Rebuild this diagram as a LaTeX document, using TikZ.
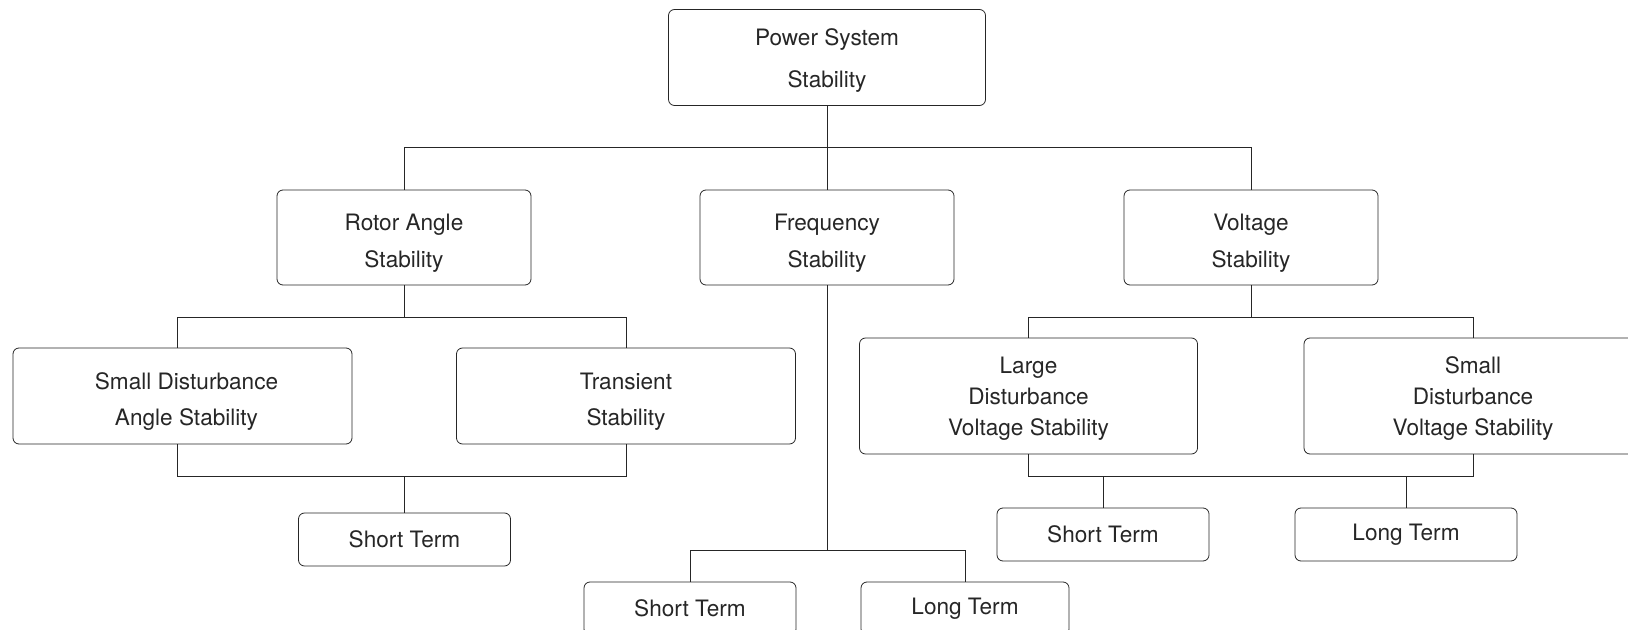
\documentclass[tikz,border=0pt]{standalone}
\usepackage{fontspec}
\setmainfont{TeX Gyre Heros}
\usepackage{xcolor}
\usepackage{tikz}
\definecolor{ink}{HTML}{262626}
\newcommand{\topgap}[1]{\rule{0pt}{#1}}
\tikzstyle{topic} = [rectangle, rounded corners=3pt, minimum width=158.5pt, minimum height=48pt, align=center, draw=ink, text=ink, font=\fontsize{11.3}{21}\selectfont]
\tikzstyle{category} = [rectangle, rounded corners=3pt, minimum width=127pt, minimum height=47.5pt, align=center, draw=ink, text=ink, font=\fontsize{11.3}{18.5}\selectfont]
\tikzstyle{subcategory} = [rectangle, rounded corners=3pt, minimum width=169.5pt, minimum height=48pt, align=center, draw=ink, text=ink, font=\fontsize{11.3}{18}\selectfont]
\tikzstyle{voltsub} = [rectangle, rounded corners=3pt, minimum width=169pt, minimum height=58pt, align=center, draw=ink, text=ink, font=\fontsize{11.3}{15.5}\selectfont]
\tikzstyle{term} = [rectangle, rounded corners=3pt, minimum width=106pt, minimum height=26.5pt, align=center, draw=ink, text=ink, font=\fontsize{11.3}{13}\selectfont]
\tikzstyle{link} = [draw=ink, line width=0.5pt]

\begin{document}
\begin{tikzpicture}[x=1pt, y=-1pt]
			\clip (0,0) rectangle (814,315);
			\node (pss) [topic] at (413.5,28.75) {\topgap{11pt}Power System\\Stability};

			\node (rotor) [category] at (202,118.75) {\topgap{14pt}Rotor Angle\\Stability};
			\node (freq) [category] at (413.5,118.75) {\topgap{14pt}Frequency\\Stability};
			\node (volt) [category] at (625.5,118.75) {\topgap{14pt}Voltage\\Stability};

			\node (sdas) [subcategory] at (91.25,198) {\topgap{14pt}\hspace{4pt}Small Disturbance\\\hspace{4pt}Angle Stability};
			\node (trans) [subcategory] at (313,198) {\topgap{14pt}Transient\\Stability};
			\node (stl) [term] at (202.25,269.75) {Short Term};

			\node (stf) [term] at (345,304.25) {Short Term};
			\node (ltf) [term, minimum width=104pt] at (482.5,304.25) {Long Term};

			\node (lgd) [voltsub] at (514.25,198) {\topgap{11pt}Large\\Disturbance\\Voltage Stability};
			\node (sdv) [voltsub] at (736.5,198) {\topgap{11pt}Small\\Disturbance\\Voltage Stability};
			\node (stv) [term] at (551.5,267.25) {Short Term};
			\node (ltv) [term, minimum width=111pt] at (703,267.25) {Long Term};

			\draw [link] (pss) -- (freq);
			\draw [link] (pss.south) -- ++(0,21) -| (rotor.north);
			\draw [link] (pss.south) -- ++(0,21) -| (volt.north);

			\draw [link] (rotor.south) -- ++(0,16) -| ([xshift=-2.75pt]sdas.north);
			\draw [link] (rotor.south) -- ++(0,16) -| (trans.north);
			\draw [link] ([xshift=-2.75pt]sdas.south) -- ++(0,16) -| (trans.south);
			\draw [link] (stl.north) -- ++(0,-18.5);

			\draw [link] (freq.south) -- ++(0,132.5) -| (stf.north);
			\draw [link] (freq.south) -- ++(0,132.5) -| (ltf.north);

			\draw [link] (volt.south) -- ++(0,16) -| (lgd.north);
			\draw [link] (volt.south) -- ++(0,16) -| (sdv.north);
			\draw [link] (lgd.south) -- ++(0,11) -| (sdv.south);
			\draw [link] (stv.north) -- ++(0,-16);
			\draw [link] (ltv.north) -- ++(0,-16);
		\end{tikzpicture}
\end{document}
